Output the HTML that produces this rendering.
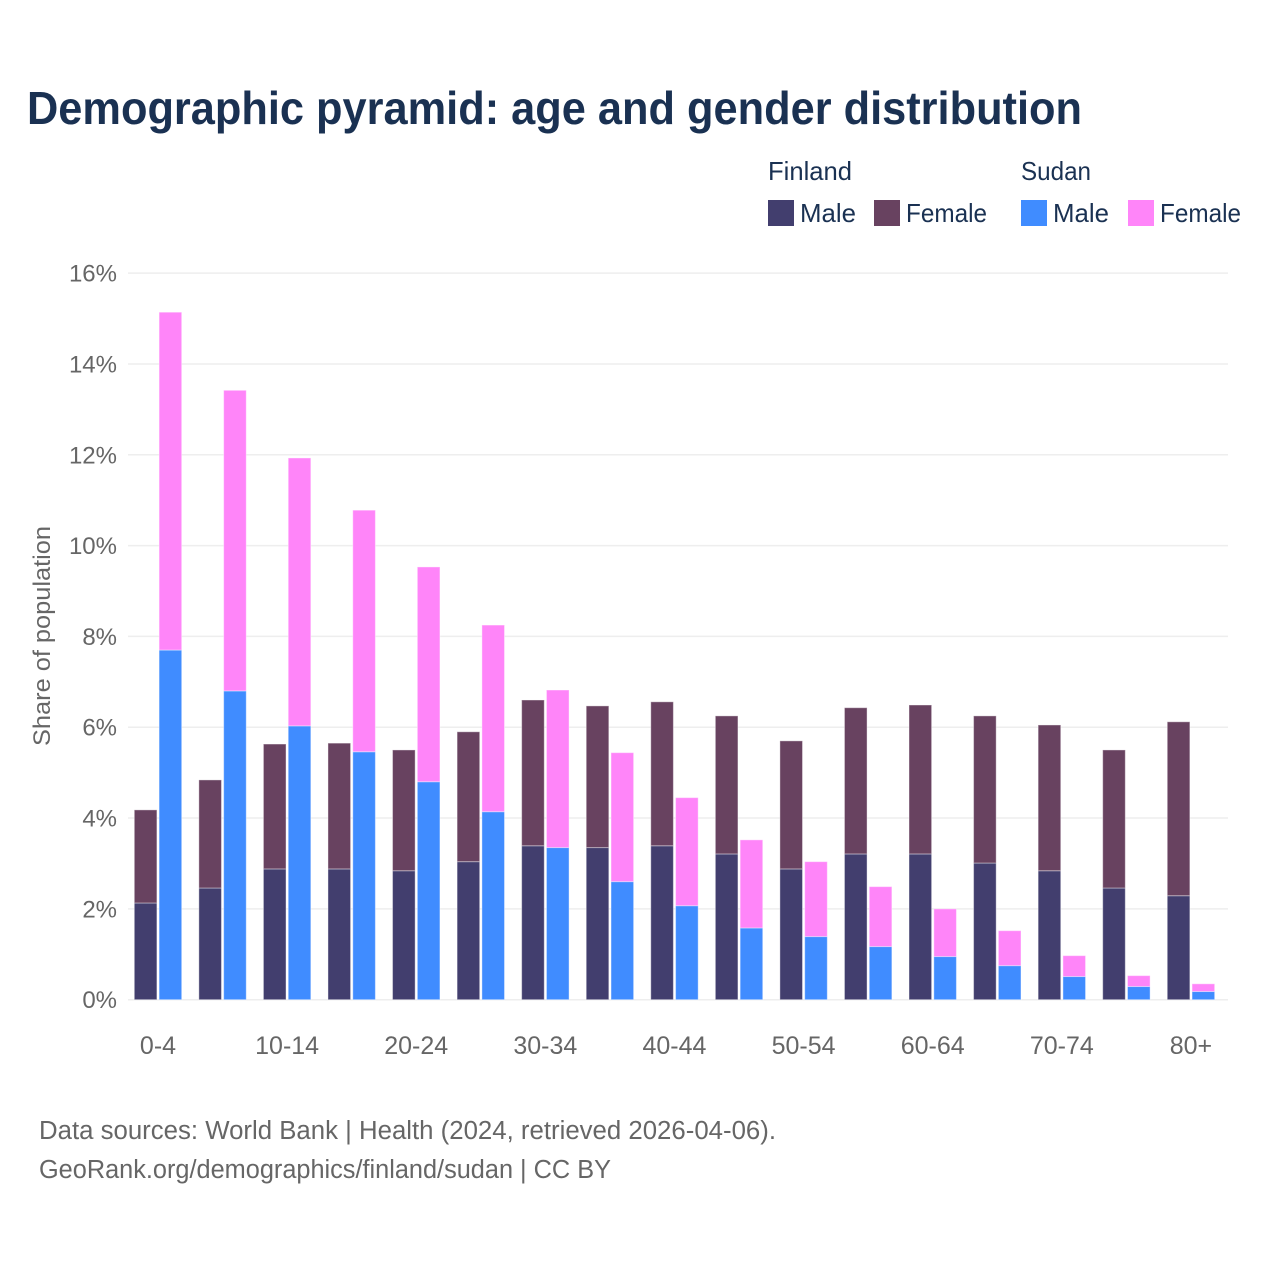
<!DOCTYPE html>
<html lang="en">
<head>
<meta charset="utf-8">
<title>Demographic pyramid</title>
<style>
html,body{margin:0;padding:0;background:#fff;}
svg{display:block;font-family:"Liberation Sans",sans-serif;}
</style>
</head>
<body>
<svg id="chart" xmlns="http://www.w3.org/2000/svg" width="1280" height="1280" viewBox="0 0 1280 1280">
  <rect x="0" y="0" width="1280" height="1280" fill="#ffffff"/>
  <text x="27" y="124" font-size="46" font-weight="700" fill="#1a3152" textLength="1055" lengthAdjust="spacingAndGlyphs">Demographic pyramid: age and gender distribution</text>

  <g font-size="26" fill="#1a3152">
    <text x="768" y="180" textLength="84" lengthAdjust="spacingAndGlyphs">Finland</text>
    <rect x="768" y="200" width="26" height="26" fill="#423e6e"/>
    <text x="800" y="222" textLength="56" lengthAdjust="spacingAndGlyphs">Male</text>
    <rect x="874" y="200" width="26" height="26" fill="#684260"/>
    <text x="906" y="222" textLength="81" lengthAdjust="spacingAndGlyphs">Female</text>
    <text x="1021" y="180" textLength="70" lengthAdjust="spacingAndGlyphs">Sudan</text>
    <rect x="1021" y="200" width="26" height="26" fill="#408cff"/>
    <text x="1053" y="222" textLength="56" lengthAdjust="spacingAndGlyphs">Male</text>
    <rect x="1128" y="200" width="26" height="26" fill="#ff85f9"/>
    <text x="1160" y="222" textLength="81" lengthAdjust="spacingAndGlyphs">Female</text>
  </g>

  <g id="grid"></g>
  <g id="yticks" font-size="24" fill="#666666"></g>
  <g id="bars"></g>
  <g id="xticks" font-size="25" fill="#666666"></g>

  <text transform="translate(50,636) rotate(-90)" text-anchor="middle" font-size="24" fill="#666666" textLength="220" lengthAdjust="spacingAndGlyphs">Share of population</text>

  <g font-size="25.5" fill="#666666">
    <text x="39" y="1139" textLength="737" lengthAdjust="spacingAndGlyphs">Data sources: World Bank | Health (2024, retrieved 2026-04-06).</text>
    <text x="39" y="1178" textLength="572" lengthAdjust="spacingAndGlyphs">GeoRank.org/demographics/finland/sudan | CC BY</text>
  </g>
</svg>
<script>
const categories = ["0-4","5-9","10-14","15-19","20-24","25-29","30-34","35-39","40-44","45-49","50-54","55-59","60-64","65-69","70-74","75-79","80+"];
const xTickLabels = ["0-4","","10-14","","20-24","","30-34","","40-44","","50-54","","60-64","","70-74","","80+"];
const yTicks = [0,2,4,6,8,10,12,14,16];
const finlandMale = [2.13,2.46,2.88,2.88,2.84,3.04,3.39,3.35,3.39,3.21,2.88,3.21,3.21,3.01,2.84,2.46,2.29];
const finlandFemale = [2.05,2.38,2.75,2.77,2.66,2.86,3.21,3.12,3.17,3.04,2.82,3.22,3.28,3.24,3.21,3.04,3.83];
const sudanMale = [7.70,6.80,6.03,5.46,4.80,4.14,3.35,2.60,2.07,1.58,1.39,1.17,0.95,0.75,0.51,0.29,0.18];
const sudanFemale = [7.44,6.62,5.90,5.32,4.73,4.11,3.47,2.84,2.38,1.94,1.65,1.32,1.05,0.77,0.46,0.24,0.17];

const NS = "http://www.w3.org/2000/svg";
const yScale = v => 999.7 - v * 45.41;
const xCenter = i => 158 + i * 64.56;
const BAR_W = 22.6, GAP = 2.2;
const gridG = document.getElementById("grid");
const yG = document.getElementById("yticks");
const barG = document.getElementById("bars");
const xG = document.getElementById("xticks");

yTicks.forEach(t => {
  const line = document.createElementNS(NS, "line");
  
  
  line.setAttribute("x1", 128);
  line.setAttribute("x2", 1228);
  line.setAttribute("y1", yScale(t));
  line.setAttribute("y2", yScale(t));
  line.setAttribute("stroke", "#eeeeee");
  line.setAttribute("stroke-width", "1.5");
  gridG.appendChild(line);
  const label = document.createElementNS(NS, "text");
  
  
  label.setAttribute("x", 117);
  label.setAttribute("y", yScale(t) + 8.5);
  label.setAttribute("text-anchor", "end");
  label.textContent = t + "%";
  yG.appendChild(label);
});

function addBar(x, base, val, fill) {
  const r = document.createElementNS(NS, "rect");
  
  
  r.setAttribute("x", x);
  r.setAttribute("y", yScale(base + val));
  r.setAttribute("width", BAR_W);
  r.setAttribute("height", yScale(base) - yScale(base + val));
  r.setAttribute("fill", fill);
  r.setAttribute("stroke", "#ffffff");
  r.setAttribute("stroke-opacity", "0.4");
  r.setAttribute("stroke-width", "1");
  barG.appendChild(r);
}

categories.forEach((c, i) => {
  const cx = xCenter(i);
  const fx = cx - GAP / 2 - BAR_W;
  const sx = cx + GAP / 2;
  addBar(fx, 0, finlandMale[i], "#423e6e");
  addBar(fx, finlandMale[i], finlandFemale[i], "#684260");
  addBar(sx, 0, sudanMale[i], "#408cff");
  addBar(sx, sudanMale[i], sudanFemale[i], "#ff85f9");
  if (xTickLabels[i]) {
    const label = document.createElementNS(NS, "text");
    
    
    label.setAttribute("x", cx);
    label.setAttribute("y", 1054);
    label.setAttribute("text-anchor", "middle");
    label.textContent = xTickLabels[i];
    xG.appendChild(label);
  }
});
</script>
</body>
</html>
